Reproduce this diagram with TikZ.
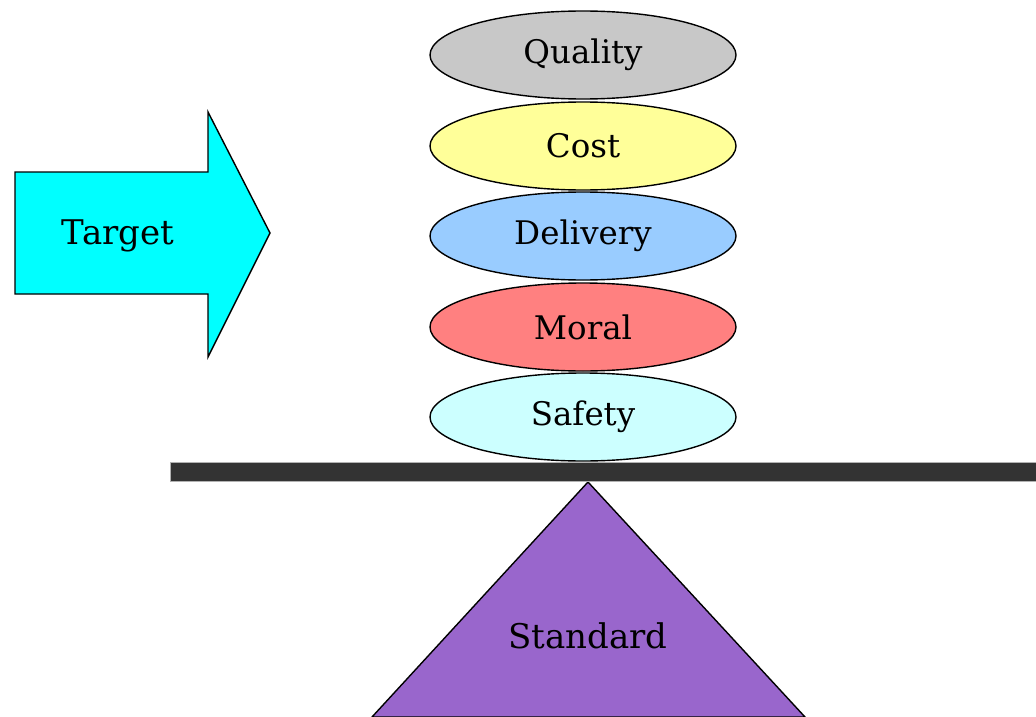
\documentclass[tikz,border=0pt]{standalone}
\usepackage{fontspec}
\setmainfont{DejaVu Serif}
\usetikzlibrary{shapes.geometric}
\definecolor{qgray}{HTML}{C8C8C8}
\definecolor{cyel}{HTML}{FFFF99}
\definecolor{dblue}{HTML}{99CCFF}
\definecolor{mred}{HTML}{FF8080}
\definecolor{scyan}{HTML}{CCFFFF}
\definecolor{tcyan}{HTML}{00FFFF}
\definecolor{barc}{HTML}{333333}
\definecolor{purp}{HTML}{9966CC}
\begin{document}
\begin{tikzpicture}[x=1pt,y=-1pt,
  disc/.style={ellipse,draw=black,line width=1.4pt,minimum width=306pt,minimum height=88pt,inner sep=0pt,font=\fontsize{32.5}{38}\selectfont},
  lbl/.style={font=\fontsize{34}{40}\selectfont,inner sep=0pt}]
\useasboundingbox (0,0) rectangle (1036,717);
% arrow
\draw[line width=1.4pt,fill=tcyan] (15,172) -- (208,172) -- (208,112) -- (270,233) -- (208,357) -- (208,294) -- (15,294) -- cycle;
\node[lbl] (target) at (118,236) {Target};
% triangle
\draw[line width=1.4pt,fill=purp] (588,482) -- (805,717) -- (372,717) -- cycle;
\node[lbl] (standard) at (588,636) {Standard};
% bar
\draw[draw=gray!60,line width=1pt,fill=barc] (170,462) rectangle (1040,481);
% ellipses
\node[disc,fill=qgray] (quality) at (583,55) {Quality};
\node[disc,fill=cyel] (cost) at (583,146) {Cost};
\node[disc,fill=dblue] (delivery) at (583,236) {Delivery};
\node[disc,fill=mred] (moral) at (583,327) {Moral};
\node[disc,fill=scyan] (safety) at (583,417) {Safety};
\end{tikzpicture}
\end{document}
